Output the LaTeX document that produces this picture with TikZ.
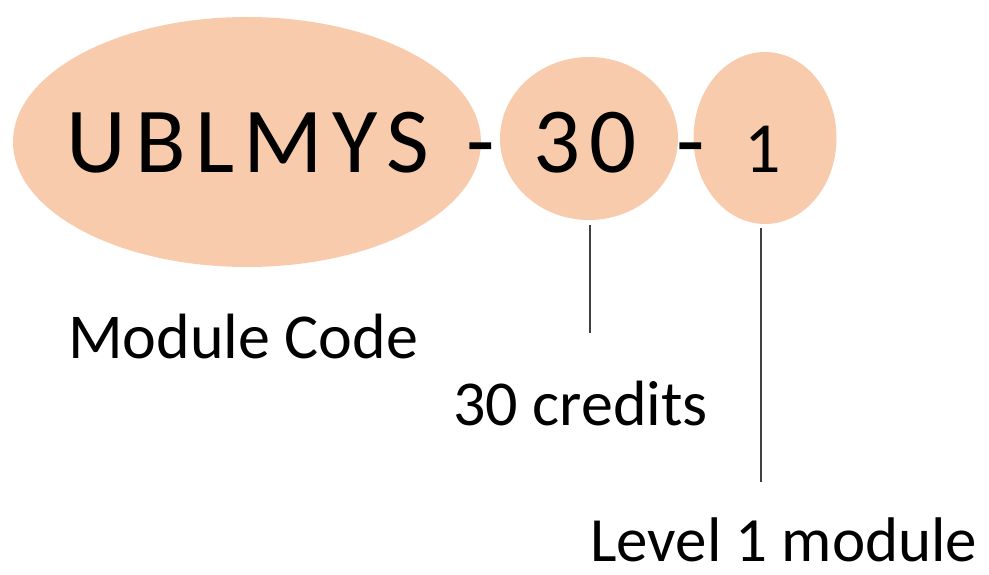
\documentclass[tikz,border=0pt]{standalone}
\usepackage{fontspec}
\setmainfont{Carlito}
\usetikzlibrary{shapes.geometric}
\definecolor{peach}{HTML}{F8CBAD}
\definecolor{leader}{HTML}{404040}
\tikzset{
  blob/.style={ellipse, fill=peach, draw=none, inner sep=0pt},
  big/.style={font=\fontsize{93}{93}\selectfont, inner sep=0pt, anchor=base west},
  lbl/.style={font=\fontsize{64}{64}\selectfont, inner sep=0pt, anchor=base west},
  leadline/.style={draw=leader, line width=1.4pt}
}
\begin{document}
\begin{tikzpicture}[x=1pt,y=-1pt]
\useasboundingbox (0,0) rectangle (989,575);
\node[blob, minimum width=468pt, minimum height=250pt] (code) at (247,142) {};
\node[blob, minimum width=178pt, minimum height=163pt] (cred) at (589,138.5) {};
\node[blob, minimum width=143pt, minimum height=172pt] (lev) at (765,138) {};
\node[big] (t1) at (66,173) {\addfontfeatures{LetterSpace=10}UBLMYS};
\node[big, anchor=base] (h1) at (481,173) {-};
\node[big] (t2) at (533,173) {\addfontfeatures{LetterSpace=10}30};
\node[big, anchor=base] (h2) at (691,173) {-};
\node[font=\fontsize{72}{72}\selectfont, inner sep=0pt, anchor=base west] (t3) at (744,173) {1};
\node[lbl] (l1) at (68,358) {Module Code};
\node[lbl] (l2) at (453,425) {30 credits};
\node[lbl, text depth=0pt, font=\fontsize{63}{63}\selectfont] (l3) at (590,561) {Level 1 module};
\coordinate (e1) at (590,333);
\coordinate (e2) at (761,482);
\draw[leadline] ([yshift=-5pt]cred.south -| e1) -- (e1);
\draw[leadline] ([yshift=-4pt]lev.south -| e2) -- (e2);
\end{tikzpicture}
\end{document}
